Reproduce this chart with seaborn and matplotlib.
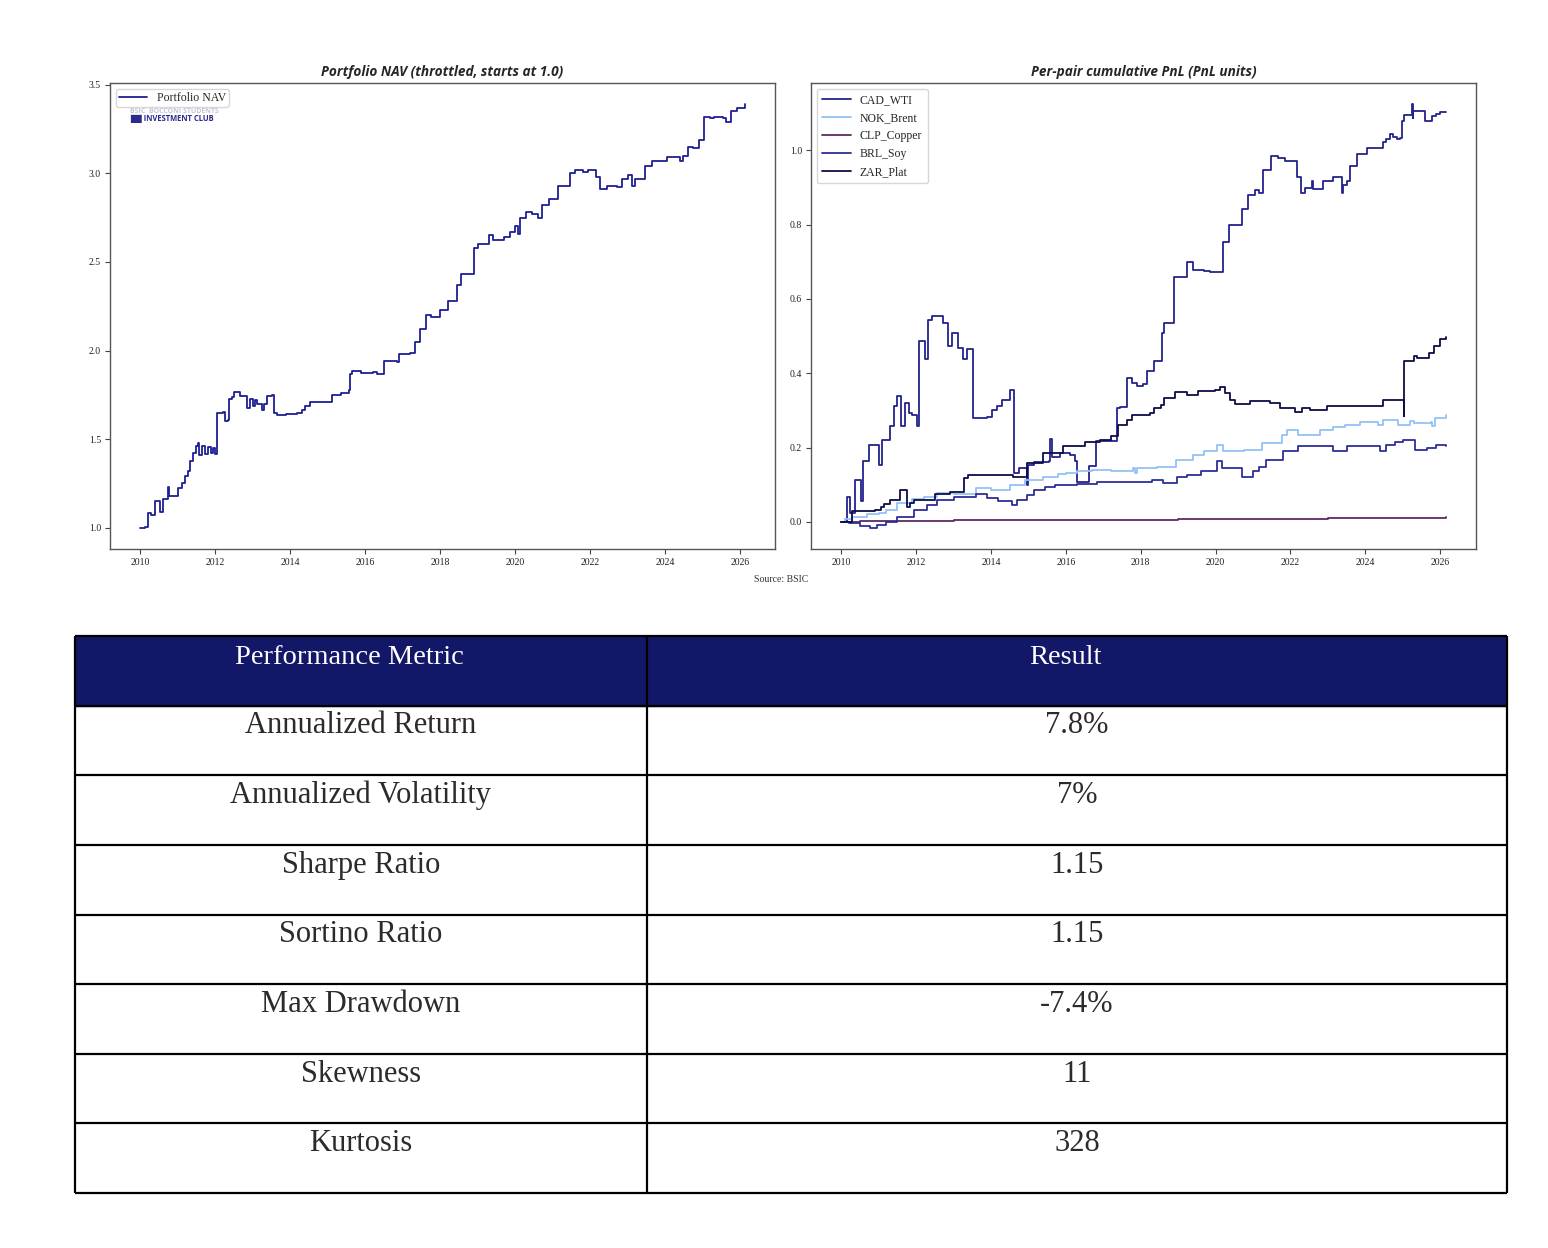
import numpy as np
import pandas as pd
import matplotlib.pyplot as plt
import seaborn as sns

# Portfolio NAV (decimal year, value)
nav_years = [2010.00, 2010.13, 2010.20, 2010.30, 2010.40, 2010.52, 2010.60, 2010.73, 2010.74, 2010.77,
             2011.02, 2011.11, 2011.20, 2011.27, 2011.33, 2011.40, 2011.49, 2011.55, 2011.58, 2011.65,
             2011.72, 2011.80, 2011.88, 2011.95, 2012.00, 2012.06, 2012.22, 2012.27, 2012.33, 2012.36,
             2012.45, 2012.49, 2012.62, 2012.66, 2012.71, 2012.84, 2012.93, 2013.00, 2013.05, 2013.11,
             2013.24, 2013.30, 2013.38, 2013.51, 2013.56, 2013.65, 2013.90, 2014.18, 2014.31, 2014.40,
             2014.53, 2015.07, 2015.11, 2015.35, 2015.56, 2015.60, 2015.65, 2015.90, 2016.22, 2016.32,
             2016.49, 2016.85, 2016.89, 2017.20, 2017.33, 2017.45, 2017.62, 2017.75, 2018.00, 2018.20,
             2018.45, 2018.55, 2018.85, 2018.90, 2019.00, 2019.25, 2019.30, 2019.40, 2019.70, 2019.87,
             2020.00, 2020.08, 2020.12, 2020.28, 2020.45, 2020.60, 2020.70, 2020.90, 2021.15, 2021.45,
             2021.60, 2021.80, 2021.95, 2022.15, 2022.27, 2022.45, 2022.70, 2022.84, 2023.00, 2023.10,
             2023.20, 2023.45, 2023.65, 2024.05, 2024.35, 2024.40, 2024.48, 2024.60, 2024.75, 2024.90,
             2025.04, 2025.20, 2025.30, 2025.55, 2025.62, 2025.75, 2025.90, 2026.12]
nav_values = [1.000, 1.005, 1.085, 1.075, 1.150, 1.090, 1.160, 1.160, 1.230, 1.180,
              1.225, 1.255, 1.290, 1.320, 1.375, 1.420, 1.460, 1.480, 1.410, 1.460,
              1.415, 1.455, 1.420, 1.450, 1.415, 1.649, 1.655, 1.601, 1.610, 1.728,
              1.740, 1.765, 1.765, 1.743, 1.743, 1.677, 1.724, 1.686, 1.720, 1.700,
              1.667, 1.700, 1.745, 1.747, 1.649, 1.639, 1.642, 1.650, 1.667, 1.690,
              1.709, 1.709, 1.752, 1.760, 1.780, 1.865, 1.884, 1.875, 1.880, 1.870,
              1.941, 1.935, 1.978, 1.987, 2.050, 2.120, 2.200, 2.190, 2.230, 2.280,
              2.370, 2.430, 2.430, 2.580, 2.600, 2.600, 2.650, 2.625, 2.640, 2.670,
              2.700, 2.660, 2.750, 2.780, 2.770, 2.750, 2.820, 2.855, 2.930, 3.000,
              3.020, 3.010, 3.020, 2.980, 2.910, 2.930, 2.920, 2.970, 2.990, 2.930,
              2.970, 3.040, 3.070, 3.090, 3.090, 3.070, 3.100, 3.150, 3.140, 3.190,
              3.320, 3.310, 3.320, 3.310, 3.290, 3.350, 3.370, 3.390]

# Per-pair cumulative PnL
cad_years = [2010.00, 2010.15, 2010.24, 2010.37, 2010.53, 2010.58, 2010.72, 2010.74, 2011.00, 2011.09,
             2011.31, 2011.40, 2011.49, 2011.60, 2011.71, 2011.80, 2011.89, 2012.02, 2012.07, 2012.24,
             2012.33, 2012.42, 2012.73, 2012.84, 2012.96, 2013.11, 2013.25, 2013.36, 2013.53, 2013.89,
             2014.02, 2014.16, 2014.29, 2014.51, 2014.62, 2014.75, 2014.97, 2015.00, 2015.15, 2015.56,
             2015.58, 2015.62, 2015.85, 2016.10, 2016.25, 2016.30, 2016.55, 2016.62, 2016.80, 2017.36,
             2017.45, 2017.63, 2017.76, 2017.90, 2018.05, 2018.17, 2018.35, 2018.57, 2018.61, 2018.89,
             2019.25, 2019.39, 2019.68, 2019.86, 2020.19, 2020.37, 2020.70, 2020.88, 2021.06, 2021.15,
             2021.26, 2021.48, 2021.68, 2021.86, 2022.17, 2022.28, 2022.39, 2022.57, 2022.61, 2022.88,
             2023.13, 2023.37, 2023.40, 2023.50, 2023.59, 2023.77, 2024.04, 2024.48, 2024.55, 2024.66,
             2024.75, 2024.84, 2024.93, 2024.97, 2025.03, 2025.26, 2025.27, 2025.28, 2025.59, 2025.77,
             2025.90, 2025.99, 2026.15]
cad_values = [0.000, 0.066, 0.023, 0.113, 0.055, 0.163, 0.163, 0.206, 0.152, 0.221,
              0.257, 0.311, 0.338, 0.257, 0.320, 0.293, 0.288, 0.257, 0.486, 0.437,
              0.544, 0.555, 0.536, 0.473, 0.509, 0.468, 0.437, 0.464, 0.279, 0.282,
              0.302, 0.311, 0.329, 0.354, 0.131, 0.145, 0.098, 0.152, 0.162, 0.165,
              0.222, 0.175, 0.185, 0.180, 0.165, 0.108, 0.108, 0.150, 0.218, 0.306,
              0.310, 0.387, 0.375, 0.365, 0.372, 0.405, 0.432, 0.509, 0.535, 0.659,
              0.699, 0.677, 0.675, 0.672, 0.754, 0.800, 0.841, 0.879, 0.893, 0.884,
              0.946, 0.985, 0.978, 0.971, 0.929, 0.886, 0.899, 0.917, 0.895, 0.917,
              0.929, 0.886, 0.906, 0.917, 0.958, 0.989, 1.007, 1.021, 1.031, 1.043,
              1.036, 1.030, 1.034, 1.079, 1.094, 1.124, 1.088, 1.106, 1.079, 1.092,
              1.097, 1.102, 1.103]

nok_years = [2010.00, 2010.10, 2010.30, 2010.70, 2011.00, 2011.20, 2011.50, 2011.90, 2012.20, 2012.56,
             2013.00, 2013.60, 2014.00, 2014.50, 2014.90, 2015.40, 2015.80, 2016.00, 2016.30, 2016.70,
             2017.20, 2017.80, 2017.85, 2017.90, 2018.44, 2018.95, 2019.41, 2019.70, 2020.04, 2020.21,
             2020.75, 2021.25, 2021.77, 2021.90, 2022.21, 2022.79, 2023.15, 2023.46, 2023.86, 2024.30,
             2024.34, 2024.48, 2024.85, 2024.88, 2025.20, 2025.30, 2025.75, 2025.78, 2025.85, 2026.15]
nok_values = [0.000, 0.008, 0.014, 0.020, 0.023, 0.032, 0.050, 0.061, 0.068, 0.077,
              0.074, 0.090, 0.086, 0.100, 0.113, 0.122, 0.128, 0.131, 0.138, 0.140,
              0.138, 0.145, 0.131, 0.145, 0.149, 0.167, 0.179, 0.190, 0.207, 0.190,
              0.194, 0.212, 0.234, 0.248, 0.234, 0.248, 0.254, 0.261, 0.270, 0.270,
              0.261, 0.274, 0.274, 0.262, 0.272, 0.265, 0.270, 0.258, 0.279, 0.288]

clp_years = [2010.00, 2010.50, 2011.00, 2012.00, 2013.00, 2014.00, 2015.00, 2016.00, 2017.00,
             2018.00, 2019.00, 2020.00, 2021.00, 2022.00, 2023.00, 2024.00, 2025.00, 2026.15]
clp_values = [0.000, 0.002, 0.003, 0.003, 0.004, 0.004, 0.005, 0.005, 0.006,
              0.006, 0.007, 0.008, 0.008, 0.009, 0.010, 0.010, 0.011, 0.012]

brl_years = [2010.00, 2010.20, 2010.50, 2010.77, 2010.95, 2011.20, 2011.49, 2011.95, 2012.30, 2012.56,
             2013.00, 2013.60, 2013.90, 2014.20, 2014.56, 2014.70, 2014.95, 2015.14, 2015.45, 2015.70,
             2016.30, 2016.83, 2017.70, 2018.30, 2018.60, 2018.98, 2019.25, 2019.60, 2020.03, 2020.16,
             2020.60, 2020.70, 2021.00, 2021.15, 2021.35, 2021.80, 2022.20, 2023.15, 2023.50, 2024.40,
             2024.55, 2024.80, 2025.00, 2025.32, 2025.65, 2025.90, 2026.15]
brl_values = [0.000, -0.003, -0.010, -0.016, -0.008, 0.000, 0.014, 0.032, 0.045, 0.059,
              0.068, 0.075, 0.064, 0.055, 0.046, 0.059, 0.073, 0.086, 0.093, 0.100,
              0.103, 0.106, 0.106, 0.112, 0.104, 0.122, 0.127, 0.138, 0.163, 0.145,
              0.145, 0.122, 0.136, 0.149, 0.167, 0.190, 0.203, 0.190, 0.203, 0.190,
              0.206, 0.214, 0.221, 0.194, 0.199, 0.208, 0.203]

zar_years = [2010.00, 2010.28, 2010.55, 2010.90, 2011.05, 2011.15, 2011.30, 2011.58, 2011.72, 2011.75,
             2011.85, 2011.95, 2012.51, 2012.90, 2013.27, 2013.40, 2014.00, 2014.60, 2014.97, 2015.40,
             2015.93, 2016.50, 2016.90, 2017.20, 2017.40, 2017.63, 2017.76, 2018.26, 2018.35, 2018.53,
             2018.62, 2018.92, 2019.23, 2019.54, 2019.99, 2020.12, 2020.25, 2020.38, 2020.52, 2020.92,
             2021.45, 2021.72, 2022.12, 2022.30, 2022.52, 2022.97, 2023.15, 2024.48, 2025.02, 2025.03,
             2025.04, 2025.29, 2025.38, 2025.69, 2025.83, 2026.00, 2026.15]
zar_values = [0.000, 0.028, 0.030, 0.032, 0.040, 0.048, 0.060, 0.086, 0.086, 0.041,
              0.050, 0.058, 0.075, 0.080, 0.118, 0.125, 0.125, 0.122, 0.158, 0.185,
              0.203, 0.214, 0.221, 0.232, 0.261, 0.275, 0.288, 0.293, 0.306, 0.315,
              0.333, 0.349, 0.342, 0.351, 0.356, 0.363, 0.347, 0.329, 0.318, 0.324,
              0.320, 0.306, 0.297, 0.306, 0.302, 0.311, 0.313, 0.329, 0.329, 0.284,
              0.432, 0.446, 0.440, 0.455, 0.473, 0.491, 0.498]

pairs = ['CAD_WTI', 'NOK_Brent', 'CLP_Copper', 'BRL_Soy', 'ZAR_Plat']
pair_colors = ['#23238f', '#93c1f5', '#5e2a63', '#2e2e9c', '#0d0d4a']

year_ticks = [2010, 2012, 2014, 2016, 2018, 2020, 2022, 2024, 2026]
nav_ticks = [1.0, 1.5, 2.0, 2.5, 3.0, 3.5]
pnl_ticks = [0.0, 0.2, 0.4, 0.6, 0.8, 1.0]

# Performance table
metrics = ['Annualized Return', 'Annualized Volatility', 'Sharpe Ratio', 'Sortino Ratio',
           'Max Drawdown', 'Skewness', 'Kurtosis']
results = ['7.8%', '7%', '1.15', '1.15', '-7.4%', '11', '328']
headers = ['Performance Metric', 'Result']

sns.set_style('ticks')
plt.rcParams['font.family'] = ['Liberation Serif', 'DejaVu Serif']
plt.rcParams['axes.edgecolor'] = '#555555'
plt.rcParams['axes.linewidth'] = 1.0

nav_df = pd.DataFrame({'year': nav_years, 'nav': nav_values})
pnl_df = pd.concat([
    pd.DataFrame({'year': y, 'pnl': v, 'pair': p})
    for p, y, v in zip(pairs,
                       [cad_years, nok_years, clp_years, brl_years, zar_years],
                       [cad_values, nok_values, clp_values, brl_values, zar_values])
], ignore_index=True)

W, H = 1548, 1248
fig = plt.figure(figsize=(W / 100, H / 100), dpi=100)
ax_nav = fig.add_axes([110 / W, 1 - 549 / H, 665 / W, 466 / H])
ax_pnl = fig.add_axes([811 / W, 1 - 549 / H, 665 / W, 466 / H])
ax_tab = fig.add_axes([75 / W, 1 - 1193 / H, 1432 / W, 557 / H])

title_font = dict(family=['Open Sans', 'DejaVu Sans'], weight='bold', style='italic', fontsize=9.8)
logo_font = ['Open Sans', 'DejaVu Sans']

# Left: portfolio NAV
sns.lineplot(data=nav_df, x='year', y='nav', ax=ax_nav, color='#1f1f95', lw=1.3,
             drawstyle='steps-post', estimator=None, errorbar=None, sort=False)
ax_nav.set_title('Portfolio NAV (throttled, starts at 1.0)', pad=5, **title_font)
# watermark logo just under the legend
ax_nav.text(0.03, 0.935, 'BSIC  BOCCONI STUDENTS', transform=ax_nav.transAxes, fontsize=5,
            color='#c4c4d6', family=logo_font, weight='bold', zorder=1)
ax_nav.text(0.03, 0.918, '\u2588\u2588 INVESTMENT CLUB', transform=ax_nav.transAxes, fontsize=5.5,
            color='#2b2b8c', family=logo_font, weight='bold', zorder=1)
leg = ax_nav.legend(ax_nav.get_lines(), ['Portfolio NAV'], loc='upper left', fontsize=8.5,
                    handlelength=2.4, borderpad=0.25, framealpha=0.75)
leg.set_zorder(5)

# Right: per-pair cumulative PnL
sns.lineplot(data=pnl_df, x='year', y='pnl', hue='pair', hue_order=pairs, palette=pair_colors,
             ax=ax_pnl, lw=1.3, drawstyle='steps-post', estimator=None, errorbar=None,
             sort=False, legend=False)
ax_pnl.set_title('Per-pair cumulative PnL (PnL units)', pad=5, **title_font)
ax_pnl.legend(ax_pnl.get_lines(), pairs, loc='upper left', fontsize=8.5, handlelength=2.4,
              labelspacing=0.5, borderpad=0.45, framealpha=0.8)

for ax, yt in [(ax_nav, nav_ticks), (ax_pnl, pnl_ticks)]:
    ax.set_xticks(year_ticks)
    ax.set_xticklabels([str(t) for t in year_ticks])
    ax.set_yticks(yt)
    ax.set_yticklabels([f'{t:.1f}' for t in yt])
    ax.set_xlabel('')
    ax.set_ylabel('')
    ax.tick_params(labelsize=7, length=3.5, width=0.8, color='#444444', labelcolor='#222222', pad=3)

fig.text(781 / W, 1 - 579 / H, 'Source: BSIC', ha='center', va='center', fontsize=7, color='#333333')

# Table
n_rows = len(metrics) + 1
split = (647 - 75) / 1432
ax_tab.set_xlim(0, 1)
ax_tab.set_ylim(n_rows, 0)
ax_tab.axis('off')
ax_tab.axhspan(0, 1, color='#121767', zorder=0)
ax_tab.hlines(range(n_rows + 1), 0, 1, color='black', lw=1.6, clip_on=False)
ax_tab.vlines([0, split, 1], 0, n_rows, color='black', lw=1.6, clip_on=False)
ax_tab.text(split / 2 - 0.008, 0.40, headers[0], ha='center', va='baseline', fontsize=20.5, color='white')
ax_tab.text((split + 1) / 2 - 0.008, 0.40, headers[1], ha='center', va='baseline', fontsize=20.5, color='white')
for i, (m, r) in enumerate(zip(metrics, results)):
    ax_tab.text(split / 2, i + 1.40, m, ha='center', va='baseline', fontsize=22, color='#2b2b2b')
    ax_tab.text((split + 1) / 2, i + 1.40, r, ha='center', va='baseline', fontsize=22, color='#2b2b2b')

fig.savefig('out.png', dpi=100)
